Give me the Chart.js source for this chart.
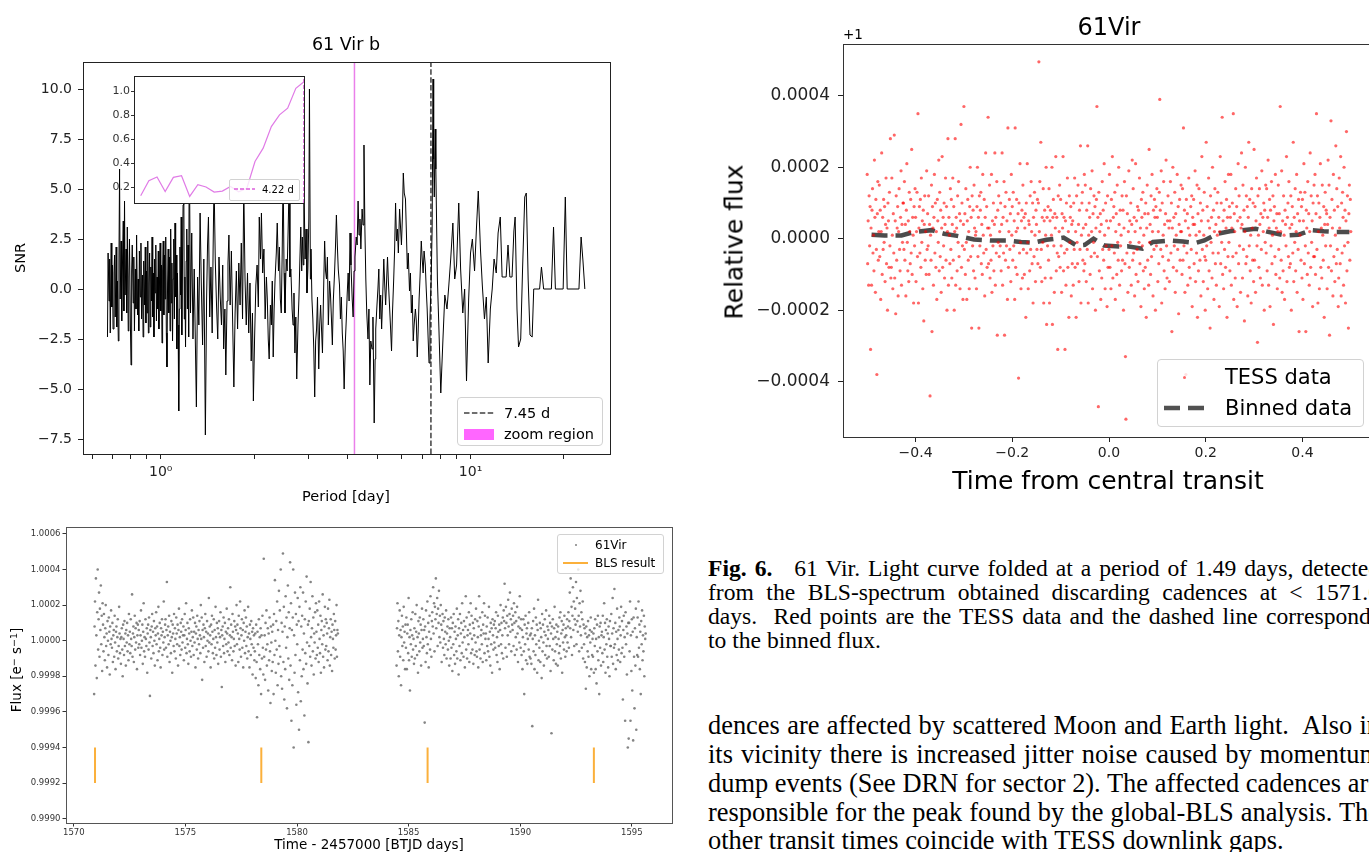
<!DOCTYPE html>
<html>
<head>
<meta charset="utf-8">
<script src="https://cdn.jsdelivr.net/npm/chart.js@4.4.0/dist/chart.umd.min.js"></script>
<style>
  html, body { margin: 0; padding: 0; background: #fff; }
  body { width: 1369px; height: 852px; overflow: hidden; position: relative; font-family: "DejaVu Sans", sans-serif; color: #000; }
  canvas { position: absolute; }
  .t { position: absolute; white-space: nowrap; line-height: 1; transform: translate(-50%, -50%); }
  .rot { transform: translate(-50%, -50%) rotate(-90deg); }
  .t sup { font-size: 70%; vertical-align: 0.45em; line-height: 0; }
  .leg { position: absolute; box-sizing: border-box; border: 1px solid #d2d2d2; border-radius: 4px; background: rgba(255,255,255,0.8); }
  .leg .lt { position: absolute; white-space: nowrap; line-height: 1; transform: translateY(-50%); }
  .leg svg, .leg .patch, .leg .dot { position: absolute; }
  .txt { position: absolute; left: 708px; width: 672px; font-family: "Liberation Serif", "Times New Roman", serif; text-align: justify; text-align-last: justify; color: #000; }
  .cap { font-size: 23.6px; line-height: 26px; height: 26px; }
  .body { font-size: 26.4px; line-height: 29px; height: 29px; }
  .last { text-align-last: left; }
</style>
</head>
<body>

<canvas id="snr" width="620" height="520" style="left:0;top:0;width:620px;height:520px"></canvas>
<canvas id="inset" width="210" height="145" style="left:100px;top:66px;width:210px;height:145px"></canvas>
<canvas id="lc" width="680" height="332" style="left:0;top:520px;width:680px;height:332px"></canvas>
<canvas id="fold" width="700" height="520" style="left:700px;top:0;width:700px;height:520px"></canvas>

<!-- periodogram texts -->
<div class="t" style="left:346px;top:45px;font-size:17.5px">61 Vir b</div>
<div class="t rot" style="left:20px;top:258px;font-size:14.5px">SNR</div>
<div class="t" style="left:346px;top:496px;font-size:14.5px">Period [day]</div>

<div class="leg" style="left:457px;top:397px;width:146px;height:49px">
  <svg style="left:6px;top:10px" width="30" height="10"><line x1="0" y1="5" x2="30" y2="5" stroke="#404040" stroke-width="1.5" stroke-dasharray="5.5 2.4"/></svg>
  <div class="lt" style="left:46px;top:15px;font-size:14.5px">7.45 d</div>
  <div class="patch" style="left:6px;top:31px;width:30px;height:11px;background:#ff66ff"></div>
  <div class="lt" style="left:46px;top:36px;font-size:14.5px">zoom region</div>
</div>

<div class="leg" style="left:229px;top:179px;width:71px;height:22px;border-radius:2px">
  <svg style="left:4px;top:4px" width="21" height="10"><line x1="0" y1="5" x2="21" y2="5" stroke="#dd5fdd" stroke-width="1.5" stroke-dasharray="4 2"/></svg>
  <div class="lt" style="left:32px;top:10px;font-size:10px">4.22 d</div>
</div>

<!-- light curve texts -->
<div class="t rot" style="left:17px;top:670px;font-size:13.5px">Flux [e<sup>−</sup> s<sup>−1</sup>]</div>
<div class="t" style="left:369px;top:845px;font-size:13.5px">Time - 2457000 [BTJD days]</div>

<div class="leg" style="left:557px;top:534px;width:107px;height:40px;border-radius:3px">
  <div class="dot" style="left:17px;top:9px;width:2px;height:2px;border-radius:1px;background:#7f7f7f"></div>
  <div class="lt" style="left:37px;top:10px;font-size:12px">61Vir</div>
  <svg style="left:5px;top:23px" width="25" height="10"><line x1="0" y1="5" x2="25" y2="5" stroke="#fbb03b" stroke-width="2"/></svg>
  <div class="lt" style="left:37px;top:28px;font-size:12px">BLS result</div>
</div>

<!-- folded curve texts -->
<div class="t" style="left:1109px;top:27px;font-size:24px">61Vir</div>
<div class="t" style="left:853px;top:35px;font-size:13.5px">+1</div>
<div class="t rot" style="left:734px;top:242px;font-size:25px">Relative flux</div>
<div class="t" style="left:1108px;top:480px;font-size:25px">Time from central transit</div>

<div class="leg" style="left:1157px;top:359px;width:207px;height:68px">
  <div class="dot" style="left:25px;top:16px;width:3px;height:3px;border-radius:2px;background:rgba(255,0,0,0.6)"></div>
  <div class="lt" style="left:67px;top:17px;font-size:21px">TESS data</div>
  <svg style="left:6px;top:43px" width="42" height="10"><line x1="0" y1="5" x2="42" y2="5" stroke="rgba(50,50,50,0.85)" stroke-width="4.5" stroke-dasharray="16 8"/></svg>
  <div class="lt" style="left:67px;top:48px;font-size:21px">Binned data</div>
</div>

<!-- caption and body text -->
<div class="txt cap" style="top:555px"><b>Fig. 6.</b><span style="display:inline-block;width:14px"></span> 61 Vir. Light curve folded at a period of 1.49 days, detected</div>
<div class="txt cap" style="top:579px">from the BLS-spectrum obtained discarding cadences at &lt; 1571.0</div>
<div class="txt cap" style="top:603px">days.&nbsp; Red points are the TESS data and the dashed line corresponds</div>
<div class="txt cap last" style="top:627px">to the binned flux.</div>

<div class="txt body" style="top:711px">dences are affected by scattered Moon and Earth light.&nbsp; Also in</div>
<div class="txt body" style="top:740px">its vicinity there is increased jitter noise caused by momentum</div>
<div class="txt body" style="top:769px">dump events (See DRN for sector 2). The affected cadences are</div>
<div class="txt body" style="top:798px">responsible for the peak found by the global-BLS analysis. The</div>
<div class="txt body last" style="top:826px">other transit times coincide with TESS downlink gaps.</div>

<script>
// ---------- periodogram: [log10(period / day), SNR] ----------
const periodogram = [
  [-0.172,-2.4],[-0.170,1.8],[-0.167,-0.6],[-0.165,1.5],[-0.163,-2.2],[-0.160,2.3],[-0.158,-0.9],[-0.156,1.2],[-0.154,-2.0],[-0.151,0.8],
  [-0.149,1.7],[-0.147,-1.4],[-0.144,2.1],[-0.142,-1.9],[-0.140,0.4],[-0.137,-2.6],[-0.135,1.3],[-0.133,6.0],[-0.131,-0.5],[-0.128,2.4],
  [-0.126,-1.6],[-0.124,0.9],[-0.121,3.4],[-0.119,-1.1],[-0.117,4.4],[-0.115,-0.3],[-0.112,2.0],[-0.110,-1.2],[-0.108,3.1],[-0.105,-2.1],
  [-0.103,0.6],[-0.101,2.5],[-0.098,-1.8],[-0.096,-3.8],[-0.094,0.9],[-0.092,2.2],[-0.089,-0.7],[-0.087,1.6],[-0.085,-2.1],[-0.082,1.0],
  [-0.080,-1.0],[-0.078,2.7],[-0.075,-1.3],[-0.073,0.5],[-0.071,-2.1],[-0.069,1.9],[-0.066,-0.4],[-0.064,2.3],[-0.062,-1.5],[-0.059,0.7],
  [-0.057,-2.4],[-0.055,1.4],[-0.052,-0.8],[-0.050,2.1],[-0.048,-1.7],
  [-0.046,0.9],[-0.044,-1.2],[-0.042,2.4],[-0.040,-2.2],[-0.038,0.3],[-0.036,1.8],[-0.034,-1.9],[-0.032,1.1],[-0.030,-0.6],[-0.028,2.6],
  [-0.026,-1.4],[-0.024,0.8],[-0.022,-2.4],[-0.020,1.5],[-0.018,-0.2],[-0.016,2.2],[-0.014,-1.6],[-0.012,0.6],[-0.010,-1.0],[-0.008,1.9],
  [-0.006,-2.0],[-0.004,0.4],[-0.002,2.3],[0.000,-1.1],[0.002,1.2],[0.004,-2.7],[0.006,0.9],[0.008,2.4],[0.010,-1.3],[0.012,1.7],
  [0.014,-0.5],[0.016,2.6],[0.018,-2.2],[0.020,-3.9],[0.022,0.3],[0.024,2.0],[0.026,-1.2],[0.028,1.6],[0.030,-2.1],[0.032,3.0],
  [0.034,-0.7],[0.036,1.3],[0.038,-2.6],[0.040,0.5],[0.042,2.5],[0.044,-1.5],[0.046,3.3],[0.048,-0.4],[0.050,1.7],[0.052,-3.0],
  [0.054,0.8],[0.056,-1.8],[0.058,-6.1],[0.060,-1.0],[0.062,2.1],[0.064,-0.3],[0.066,3.6],[0.068,-2.3],[0.070,1.0],[0.072,4.2],
  [0.074,6.6],[0.076,-1.5],[0.078,0.6],[0.080,-2.9],[0.082,1.4],[0.084,3.0],[0.086,-1.0],[0.088,2.2],[0.090,-2.4],
  [0.092,7.5],[0.096,-1.2],[0.100,2.8],[0.104,-2.5],[0.108,1.0],[0.112,-3.0],[0.115,-5.9],[0.119,0.6],[0.123,-1.8],[0.127,3.8],
  [0.131,0.2],[0.135,-2.8],[0.139,1.5],[0.142,-3.5],[0.144,-7.3],[0.148,-0.5],[0.151,2.2],[0.154,3.6],[0.158,-1.4],[0.162,1.1],
  [0.166,-2.2],[0.169,2.0],[0.172,5.5],[0.176,1.4],[0.180,-0.8],[0.184,-2.5],[0.188,1.6],[0.192,-0.4],[0.196,-1.8],[0.200,1.2],
  [0.203,-3.0],[0.207,-1.0],[0.210,-4.3],[0.214,-0.6],[0.217,1.3],[0.220,2.7],[0.224,-0.8],[0.228,1.9],[0.232,-1.6],[0.236,-4.9],
  [0.240,-1.2],[0.244,0.9],[0.248,-2.0],[0.252,1.3],[0.256,-0.8],[0.260,2.3],[0.264,-1.5],[0.268,5.2],[0.272,0.5],[0.276,-1.8],
  [0.280,0.8],[0.284,-2.2],[0.288,0.3],[0.292,-3.6],[0.296,-1.2],[0.299,-5.6],[0.303,-2.4],[0.307,0.2],[0.311,1.2],[0.315,-0.9],
  [0.318,3.6],[0.322,1.5],[0.325,3.8],[0.329,0.8],[0.333,2.0],[0.337,-1.5],[0.341,0.6],[0.344,-0.5],[0.347,-2.5],[0.350,-3.5],
  [0.354,-0.8],[0.357,-1.8],[0.360,0.4],[0.363,-3.4],[0.366,-1.0],[0.369,0.5],[0.373,1.8],[0.376,3.3],[0.380,0.9],[0.383,2.1],
  [0.386,-0.5],[0.389,-1.2],[0.392,1.8],[0.395,6.0],[0.398,0.8],[0.401,-1.2],[0.405,1.5],[0.408,0.9],[0.411,2.8],[0.414,5.0],
  [0.417,0.6],[0.420,1.0],[0.424,-1.0],[0.427,-1.8],[0.430,-0.2],[0.433,-3.2],[0.436,-1.4],[0.439,-4.5],[0.443,-1.8],[0.446,-0.5],
  [0.449,1.4],[0.452,3.1],[0.455,0.9],[0.457,2.6],[0.460,1.2],[0.462,5.5],[0.466,1.5],[0.469,3.0],[0.472,-0.2],[0.475,1.0],
  [0.478,3.5],[0.480,10.0],[0.483,0.5],[0.485,2.0],
  [0.488,-0.5],[0.491,-1.5],[0.494,-3.0],[0.497,-5.4],[0.500,-2.6],[0.503,-2.0],[0.506,-0.4],[0.510,-4.0],[0.513,-1.8],[0.516,-0.8],
  [0.519,-2.0],[0.522,-3.2],[0.525,-0.6],[0.529,2.4],[0.532,0.9],[0.535,0.5],[0.538,1.6],[0.541,-1.8],[0.545,0.4],[0.548,-0.3],
  [0.551,-1.5],[0.554,-2.8],[0.557,-0.6],[0.561,0.8],[0.564,2.1],[0.567,3.7],[0.570,2.2],[0.573,1.0],[0.577,0.2],[0.580,-1.5],
  [0.583,-0.4],[0.586,-2.2],[0.589,-3.1],[0.592,-5.0],[0.596,-2.6],[0.599,-1.5],[0.602,-0.2],[0.605,0.8],[0.608,-0.6],[0.611,2.8],
  [0.614,1.2],[0.618,-0.5],[0.621,-1.4],[0.624,0.9],[0.627,1.6],[0.631,2.6],[0.634,2.2],[0.637,4.4],[0.640,2.7],[0.643,3.5],
  [0.646,2.0],[0.650,4.0],[0.653,3.2],[0.656,7.2],[0.659,3.0],[0.662,0.5],[0.665,-1.2],[0.669,-2.5],[0.672,-1.0],[0.675,-4.8],
  [0.678,-2.6],[0.682,-3.0],[0.685,-1.4],[0.689,-6.7],[0.692,-3.5],[0.694,-2.0],[0.698,-0.8],[0.701,0.0],[0.704,1.0],[0.707,-1.5],
  [0.710,-0.3],[0.713,-2.0],[0.716,-0.6],[0.720,1.5],[0.723,0.2],[0.726,-0.8],[0.729,0.4],[0.732,1.6],[0.735,0.3],[0.739,-1.0],
  [0.742,-2.0],[0.745,-3.1],[0.748,-1.2],[0.752,0.5],[0.755,2.0],[0.758,4.3],[0.761,2.4],[0.764,3.0],[0.767,1.8],[0.771,4.0],
  [0.774,3.1],[0.777,2.2],[0.780,3.6],[0.783,5.8],[0.786,4.8],[0.790,4.5],[0.793,2.8],[0.796,1.0],[0.799,1.8],[0.803,-0.1],
  [0.806,0.8],[0.809,-1.2],[0.812,-0.3],[0.815,-2.6],[0.818,-1.8],[0.822,-1.0],[0.825,-1.6],[0.828,-3.4],[0.831,-2.1],[0.834,-0.5],
  [0.837,0.6],[0.841,2.4],[0.844,1.5],[0.847,0.8],[0.850,1.9],[0.854,1.2],[0.857,0.0],[0.860,-1.0],[0.863,-2.4],[0.866,-3.7],
  [0.869,-1.5],[0.873,0.5],[0.876,3.0],[0.879,10.5],[0.881,6.5],[0.883,4.6],[0.886,8.0],[0.888,6.0],
  [0.893,0.5],[0.898,-2.0],[0.904,-5.2],[0.911,-2.5],[0.917,-0.3],[0.924,-1.0],[0.930,0.2],[0.936,1.5],[0.943,3.3],[0.949,0.5],
  [0.955,1.2],[0.962,4.3],[0.968,1.0],[0.975,-1.2],[0.981,0.0],[0.987,-4.6],[0.994,-0.5],[1.000,1.8],[1.006,2.5],[1.013,0.9],
  [1.019,3.0],[1.025,4.9],[1.032,2.0],[1.038,0.2],[1.045,-1.5],[1.051,-0.4],[1.057,-3.7],[1.064,-1.0],[1.070,0.0],[1.076,1.5],
  [1.083,0.8],[1.089,2.8],[1.096,3.6],[1.102,0.6],[1.115,0.6],[1.121,2.2],[1.127,0.6],[1.134,0.6],[1.140,2.9],[1.144,3.6],
  [1.150,-1.0],[1.155,-2.9],[1.162,-2.5],[1.168,1.0],[1.175,4.6],[1.180,4.8],[1.186,0.5],[1.192,-2.3],[1.199,-2.4],[1.204,0.0],
  [1.223,0.0],[1.229,1.1],[1.236,0.0],[1.261,0.0],[1.268,3.1],[1.274,0.0],[1.299,0.0],[1.306,4.6],[1.312,0.0],[1.350,0.0],
  [1.357,2.6],[1.363,1.4],[1.369,0.0]
];
const zoomPeriod = 4.22;
const bestPeriod = 7.45;
const snrTicksY = [-7.5, -5.0, -2.5, 0.0, 2.5, 5.0, 7.5, 10.0];
const snrTicksX = [0.6, 0.7, 0.8, 0.9, 1, 2, 3, 4, 5, 6, 7, 8, 9, 10, 20];

// ---------- inset (zoom region) ----------
const insetPeriods = [4.010,4.0205,4.031,4.0415,4.052,4.0625,4.073,4.0835,4.094,4.1045,4.115,4.1255,4.136,4.1465,4.157,4.1675,4.178,4.1885,4.199,4.2095,4.220];
const insetValues  = [0.127,0.253,0.284,0.163,0.281,0.295,0.121,0.219,0.200,0.158,0.166,0.205,0.160,0.190,0.414,0.526,0.707,0.805,0.861,1.028,1.084];
const insetTicksY = [0.2, 0.4, 0.6, 0.8, 1.0];

// ---------- light curve: (flux - 1) x 1e5, one value per 0.02 d cadence ----------
const lcCadence = 0.02;
const lcStart1 = 1570.91;
const lcFlux1 = [
  -30,8,22,-14,35,3,-21,16,40,-5,12,27,-9,18,6,31,-2,14,-17,21,
  9,-6,15,2,-11,7,20,-3,4,-15,11,0,-8,13,5,-19,8,-2,17,1,
  -4,10,-12,3,6,-9,14,-1,-16,5,8,-6,2,12,-10,-3,19,4,-7,1,
  -13,2,7,-5,-20,9,1,-8,11,-3,4,-14,6,-1,10,-6,3,-11,15,-2,
  5,-7,12,1,-3,26,-9,4,8,-12,2,14,-5,7,-1,10,-16,3,9,-4,
  6,-2,11,-8,3,17,-4,0,9,-13,5,21,-6,2,-9,12,1,-3,7,-18,
  4,9,-5,13,-1,-31,6,2,-10,8,15,-3,5,-7,11,0,-14,7,3,16,
  -2,8,-11,4,19,-6,1,10,-4,-15,7,3,12,-8,5,-1,22,-5,2,9,
  12,-4,6,33,-9,3,8,-2,14,-12,5,0,-7,11,2,-18,9,4,-3,15,
  -6,7,1,-10,13,4,-2,9,-14,6,18,-3,2,-8,10,5,-5,12,-1,3,
  8,-11,3,15,-4,6,21,-7,1,10,-2,-13,7,4,-6,12,0,-9,5,17,
  -3,2,13,-8,5,-1,10,-15,4,8,-5,14,1,-10,6,-2,11,3,-7,20,
  1,13,-22,6,-4,9,2,-12,7,15,-3,5,-9,11,0,4,-6,24,-1,8,
  3,-15,9,-2,14,5,-7,1,12,-10,6,-4,19,2,-8,10,-1,7,-13,4,
  11,-5,2,16,-9,6,-26,3,8,-3,13,-7,1,10,-12,5,-2,18,4,-6,
  7,-1,12,-8,3,30,-4,9,2,-11,15,5,-6,1,11,-3,8,-14,6,20,
  -2,9,4,-12,14,1,-5,22,7,-9,3,12,-4,6,-15,10,0,17,-7,5,
  13,-3,8,-10,2,19,-6,4,-15,9,1,-8,11,-2,5,-19,7,-4,3,-11,
  -6,4,-21,9,-12,-43,5,-2,-25,12,-8,2,-16,7,-30,3,-10,14,-4,-19,
  46,-9,3,-22,10,-5,17,-14,-2,7,-28,4,-11,13,-6,-35,8,-1,-17,5,
  -12,9,-30,15,-8,34,0,-18,11,-5,22,-25,6,-13,28,-3,17,-9,40,-20,
  10,-27,5,49,-12,19,-33,8,-16,25,-4,13,-38,2,31,-10,16,-22,7,44,
  -14,21,-45,6,-25,13,40,-60,3,-18,27,-8,15,-36,9,-2,24,-29,11,-50,
  19,-11,30,-34,8,-20,14,-5,27,-16,4,-42,12,-7,22,-13,36,-1,-24,9,
  -57,11,-3,18,-9,33,2,-14,7,25,-6,13,-19,4,-1,16,-10,21,5,-8,
  17,-4,9,-12,22,1,-7,14,-18,6,11,-2,26,-9,3,-15,8,19,-5,12,
  -3,10,4,-11,18,-6,7,23,-14,2,12,-8,5,-17,9,1,-4,15,6,-10,
  11,-5,3,20,-9,6,4
];
const lcStart2 = 1584.46;
const lcFlux2 = [
  -14,7,21,-6,11,-20,3,17,-9,6,-25,2,14,-3,8,-11,19,-1,5,-16,
  9,-4,13,-16,4,9,-7,24,-11,2,-28,6,-2,12,-9,3,16,-5,1,-13,
  7,-10,15,-3,5,20,-8,2,-18,11,4,-6,13,-1,9,-14,6,18,-4,1,
  12,-3,6,-46,8,-12,17,2,-7,22,-2,10,-15,5,14,-5,25,1,-9,11,
  16,8,30,4,21,-6,19,12,35,7,15,24,-3,18,10,28,2,14,-1,20,
  9,-12,6,15,-4,11,1,-8,13,5,-2,17,-10,4,8,-5,12,0,-14,7,
  2,-10,13,-4,7,-17,10,-2,15,-8,5,-13,8,1,-6,18,-10,3,12,-19,
  7,-3,15,-11,4,10,-7,21,-1,6,-9,11,2,-15,8,25,-5,13,-10,3,
  6,-2,16,-12,9,4,21,-7,14,1,-5,10,-13,7,3,-8,12,-1,18,-6,
  -9,11,2,-15,8,25,-5,13,-10,3,6,-2,16,-12,9,4,21,-7,14,1,
  4,-11,8,-3,13,-6,1,19,-9,5,-14,10,-2,7,-18,12,3,-5,9,-1,
  11,-4,7,16,-8,2,-12,14,5,-3,9,-16,6,20,-2,10,-7,3,13,-10,
  17,11,32,7,-4,19,10,-9,14,3,23,8,-2,15,27,5,12,-6,18,9,
  6,14,-3,21,10,-8,16,2,11,-5,19,4,-12,8,13,-1,25,7,-4,12,
  -8,6,-16,2,12,-6,-30,9,-2,14,-11,4,7,-13,1,10,-5,16,-9,3,
  -10,4,-13,7,-48,1,11,-6,18,-16,3,-8,13,-2,9,-18,6,23,-11,0,
  -4,10,-12,7,2,-21,15,-6,9,-1,-14,5,12,-8,3,17,-3,-10,8,1,
  6,-9,14,-3,10,-17,4,-52,8,-5,12,1,-11,7,19,-6,2,-13,9,-2,
  5,-14,8,1,-7,13,-3,16,-10,4,11,-18,6,-1,9,-5,14,2,-9,7,
  3,-6,12,-1,8,16,-4,11,27,7,35,2,19,-8,14,30,6,22,-3,12,
  18,9,33,-2,24,11,5,40,14,-6,21,8,28,3,16,-4,12,22,-10,9,
  -2,7,-12,4,-27,8,-15,2,-6,11,-9,3,-20,6,-1,13,-16,5,-8,1,
  -9,4,-18,7,-3,12,-16,1,-24,9,-6,14,-11,2,-30,8,-4,10,-14,3,
  5,-7,14,-12,2,21,-5,10,-18,6,-2,12,-9,4,-15,8,1,-20,11,-3,
  -3,15,-9,4,24,-13,7,-4,29,-2,10,-16,5,-8,18,1,-11,6,-5,13,
  8,-12,3,19,-7,11,-4,-33,6,14,-9,2,-45,16,-2,8,-19,4,-60,10,
  -55,10,-6,22,-45,3,-17,12,-28,5,-56,13,-9,-38,7,-14,18,-50,2,-8,
  13,-9,22,-4,9,-16,5,-30,11,-2,17,-11,3,-6,14,-20,8,1,4
];
const blsTransitTimes = [1570.95, 1578.40, 1585.85, 1593.30];
const blsMarkLow = 0.9992, blsMarkHigh = 0.9994;
const lcTicksX = [1570, 1575, 1580, 1585, 1590, 1595];
const lcTicksY = [0.9990, 0.9992, 0.9994, 0.9996, 0.9998, 1.0000, 1.0002, 1.0004, 1.0006];

// ---------- folded curve: relative flux x 1e5, phase bins of 0.001 from -0.5 ----------
const foldStart = -0.5;
const foldStep = 0.001;
const foldFlux = [
  18,-7,5,-13,12,-2,9,-31,3,-13,8,14,-4,1,-9,22,6,-15,11,-3,-38,7,16,-6,2,
  15,-5,8,-17,2,24,-10,6,-3,11,-1,9,-12,4,17,-7,3,-20,10,5,-8,13,-2,28,-11,
  -8,17,1,-14,7,-4,29,-11,5,-21,12,-6,3,9,-16,2,14,-3,-9,6,19,-13,4,-1,10,
  10,-3,16,-6,4,-16,8,21,-1,-9,5,-12,13,2,-7,11,-4,25,-10,6,1,-18,9,-2,14,
  6,-12,2,13,-5,35,-18,3,9,-4,11,-8,17,-1,5,-14,8,-23,4,12,-6,2,-10,19,-3,
  7,-2,12,-10,4,-44,1,-6,15,-26,9,3,-13,6,18,-4,10,-8,2,-17,11,5,-1,22,-9,
  13,-5,8,-15,3,23,-8,6,-2,10,-11,4,17,-6,9,-20,2,28,-13,6,1,-7,14,-3,11,
  -11,4,17,-6,9,-20,2,28,-13,6,3,-9,12,-1,16,-5,7,-14,5,32,-8,10,-2,-17,4,
  37,-3,7,-10,14,-1,-17,5,11,-6,2,-14,9,20,-5,6,-25,12,-2,8,-9,15,3,-11,1,
  2,-14,9,20,-5,6,-25,12,-2,8,13,-7,4,-10,18,1,-4,11,-16,6,24,-3,9,-8,3,
  34,-7,3,15,-11,1,-6,18,-15,5,-2,10,-9,4,24,-13,6,-4,16,-27,8,-1,12,-5,2,
  -2,10,-9,4,24,-13,6,-4,16,-27,9,-6,13,-2,5,-17,31,-8,2,11,-3,7,-12,18,1,
  9,-6,13,-2,5,-17,31,-8,2,11,-10,3,7,-39,10,-4,21,-1,-14,5,8,-11,15,-3,6,
  -10,3,7,-22,10,-4,21,-1,-14,5,4,-9,12,-3,16,2,-7,10,-18,6,-5,13,1,-12,8,
  4,-3,11,-7,10,49.5,2,16,-8,27,-3,-12,6,-1,14,-18,5,8,-11,1,20,-24,6,-2,9,
  -6,14,-18,5,8,-11,1,20,-24,6,11,-2,-15,7,3,23,-9,6,-4,-31,12,-5,2,15,-8,
  11,-2,-15,7,3,23,-9,6,-4,-31,5,-13,10,-3,17,-8,2,-22,12,-1,6,9,-16,4,-7,
  5,-13,10,-3,17,-8,2,-22,12,-1,-7,15,4,-12,8,-3,26,-18,1,10,13,-6,3,-9,18,
  -7,15,4,-12,8,-3,26,-18,1,10,6,-10,14,-5,2,19,-14,7,-1,12,-4,9,-20,3,11,
  37,-5,6,-47,13,-9,2,7,-17,4,-11,16,-3,8,-6,21,1,-14,10,-2,5,-19,12,-8,3,
  -3,18,-8,5,-14,11,-2,23,-11,6,9,-4,13,-17,2,7,-10,15,-1,-6,20,4,-13,8,-2,
  1,-9,12,-6,8,-20,3,16,-7,-33,-50.5,12,-4,7,-15,2,19,-8,5,-1,10,-13,4,22,-6,
  14,-4,6,-16,2,21,-10,5,-3,9,-12,8,-1,17,-7,3,-19,11,6,-2,13,-9,1,-14,7,
  -8,10,-22,3,15,-6,7,-13,25,-1,4,-10,12,-5,18,2,-16,8,-3,11,6,-20,9,-2,14,
  6,-12,2,-7,13,39,8,-3,19,-18,10,-5,1,16,-9,4,-14,7,22,-2,-11,5,12,-6,3,
  -12,5,16,-4,10,-26,3,20,-8,6,-2,13,-15,7,1,-9,18,-3,9,-21,4,11,-6,2,15,
  2,-10,14,-6,31,-2,8,-15,5,-38,11,-4,7,-13,3,17,-8,1,-11,9,-3,12,-19,6,4,
  11,-7,4,19,-12,1,-4,15,-22,7,-9,14,2,-6,10,-16,5,23,-3,8,-12,1,13,-5,-20,
  -6,27,-2,9,-14,5,17,-9,3,-25,12,-1,6,-11,20,-4,8,-17,2,14,-7,4,-13,10,1,
  13,-4,6,-19,2,23,-7,10,-1,34,-10,5,-14,8,-3,16,-8,3,11,-22,6,-5,18,-1,9,
  -9,6,18,-13,3,10,-5,35,-17,7,2,-11,14,-4,9,-19,5,21,-7,12,-2,6,-15,3,24,
  4,-11,15,-3,8,-23,2,20,-7,12,-5,9,-16,6,27,-2,11,-9,1,-18,14,3,-6,10,-12,
  25,-6,9,-15,5,17,-2,-29,12,1,-8,14,4,-11,7,-3,19,-13,6,2,10,-20,8,-1,15,
  -4,14,-9,6,22,-13,3,11,-19,8,-2,16,-7,1,12,-24,5,9,-5,18,-10,3,7,-14,2,
  15,-3,7,-11,37,2,-6,19,-15,5,-9,12,1,-17,8,4,-2,23,-12,6,10,-5,16,-8,3,
  -7,12,-20,4,9,-4,27,-12,6,-1,14,-9,2,18,-15,7,-3,11,-26,5,1,13,-6,9,-11,
  11,-17,5,21,-7,13,-2,-26,8,3,-10,16,-4,7,-13,2,24,-8,12,-1,5,-19,10,-5,15,
  -5,18,-10,7,35,-3,12,-18,2,10,-14,6,21,-8,3,-11,15,1,-6,9,-22,4,13,-2,8,
  7,-14,4,22,-8,15,-27,6,-2,33,-9,11,3,-16,18,-5,8,-12,1,26,-7,14,-3,9,-19,
  -11,17,3,-7,23,-16,10,-4,13,6,-13,20,-2,8,-18,5,30,-9,12,-1,-25,7,15,-6,11,
  2
];
const binnedFlux = [
  [-0.491,1.1],[-0.464,0.9],[-0.429,0.9],[-0.403,1.9],[-0.367,2.4],[-0.341,1.4],[-0.314,0.8],[-0.279,-0.2],[-0.244,-0.5],[-0.209,-0.5],
  [-0.182,-0.9],[-0.156,-1.1],[-0.129,-0.3],[-0.094,0.3],[-0.067,-1.9],[-0.050,-1.7],[-0.032,0.0],[-0.010,-1.9],[0.021,-2.2],[0.038,-2.1],
  [0.069,-2.8],[0.091,-0.9],[0.127,-0.5],[0.153,-0.8],[0.179,-1.2],[0.197,-0.5],[0.224,1.4],[0.250,2.1],[0.276,2.4],[0.303,2.8],
  [0.329,1.9],[0.365,0.9],[0.391,1.1],[0.418,2.4],[0.444,2.1],[0.470,1.9],[0.497,1.9]
];
const foldTicksX = [-0.4, -0.2, 0.0, 0.2, 0.4];
const foldTicksY = [-0.0004, -0.0002, 0.0, 0.0002, 0.0004];

// ---------- helpers ----------
Chart.defaults.font.family = "'DejaVu Sans', sans-serif";
const minus = s => s.replace('-', '\u2212');

// box around the axes, optional white fill (inset)
const frame = {
  id: 'frame',
  beforeDatasetsDraw(chart, args, opts) {
    if (!opts.fill) return;
    const a = chart.chartArea, ctx = chart.ctx;
    ctx.save();
    ctx.fillStyle = opts.fill;
    ctx.fillRect(a.left, a.top, a.right - a.left, a.bottom - a.top);
    ctx.restore();
  },
  afterDatasetsDraw(chart, args, opts) {
    const a = chart.chartArea, ctx = chart.ctx;
    ctx.save();
    ctx.strokeStyle = opts.color || '#000';
    ctx.lineWidth = 1;
    ctx.strokeRect(Math.round(a.left) + 0.5, Math.round(a.top) + 0.5, Math.round(a.right - a.left), Math.round(a.bottom - a.top));
    ctx.restore();
  }
};

function axis(o) {
  return {
    type: o.type || 'linear',
    min: o.min, max: o.max,
    display: o.display !== false,
    border: { display: false },
    grid: { drawOnChartArea: false, drawTicks: true, tickLength: o.tickLen, color: o.color, tickColor: o.color },
    ticks: { font: { size: o.size }, color: o.color, padding: o.pad, autoSkip: false, maxRotation: 0, minRotation: 0, callback: o.label },
    afterBuildTicks: ax => { ax.ticks = o.ticks.map(v => ({ value: v })); },
    afterFit: ax => { if (o.w !== undefined) ax.width = o.w; if (o.h !== undefined) ax.height = o.h; }
  };
}

function baseOptions(padding, scales, frameOpts) {
  return {
    responsive: false, animation: false, devicePixelRatio: 1, events: [],
    layout: { padding },
    plugins: { legend: { display: false }, tooltip: { enabled: false }, frame: frameOpts || {} },
    scales
  };
}

// ---------- periodogram ----------
const snrLine = periodogram.map(p => ({ x: Math.pow(10, p[0]), y: p[1] }));
const snrMin = -8.25, snrMax = 11.35;
new Chart(document.getElementById('snr'), {
  type: 'line',
  data: { datasets: [
    { data: snrLine, borderColor: '#000', borderWidth: 1, pointRadius: 0, tension: 0 },
    { data: [{ x: zoomPeriod, y: snrMin }, { x: zoomPeriod, y: snrMax }], borderColor: '#ea80ea', borderWidth: 1.5, pointRadius: 0 },
    { data: [{ x: bestPeriod, y: snrMin }, { x: bestPeriod, y: snrMax }], borderColor: '#404040', borderWidth: 1.5, borderDash: [5.5, 2.4], pointRadius: 0 }
  ] },
  options: baseOptions({ left: 0, top: 62, right: 10, bottom: 36 }, {
    x: axis({ type: 'logarithmic', min: 0.561, max: 28.2, ticks: snrTicksX, size: 14, color: '#222', tickLen: 5, pad: 5, h: 30,
              label: v => v === 1 ? '10\u2070' : (v === 10 ? '10\u00B9' : '') }),
    y: axis({ min: snrMin, max: snrMax, ticks: snrTicksY, size: 14, color: '#222', tickLen: 5, pad: 6, w: 83,
              label: v => minus(v.toFixed(1)) })
  }, { color: '#222' }),
  plugins: [frame]
});

// ---------- inset ----------
const insetMin = 0.066, insetMax = 1.131;
new Chart(document.getElementById('inset'), {
  type: 'line',
  data: { datasets: [
    { data: insetPeriods.map((p, i) => ({ x: p, y: insetValues[i] })), borderColor: '#e07be6', borderWidth: 1.2, pointRadius: 0, tension: 0 },
    { data: [{ x: zoomPeriod, y: insetMin }, { x: zoomPeriod, y: insetMax }], borderColor: '#d250d2', borderWidth: 1.5, borderDash: [4, 2], pointRadius: 0 }
  ] },
  options: baseOptions({ left: 0, top: 10, right: 6, bottom: 8 }, {
    x: axis({ min: 4.0014, max: 4.22, ticks: [], size: 10, color: '#333', tickLen: 0, pad: 0, display: false }),
    y: axis({ min: insetMin, max: insetMax, ticks: insetTicksY, size: 11, color: '#333', tickLen: 3, pad: 1, w: 34,
              label: v => v.toFixed(1) })
  }, { color: '#222', fill: '#fff' }),
  plugins: [frame]
});

// ---------- light curve ----------
const lcData = lcFlux1.map((v, i) => ({ x: lcStart1 + i * lcCadence, y: 1 + v * 1e-5 }))
  .concat(lcFlux2.map((v, i) => ({ x: lcStart2 + i * lcCadence, y: 1 + v * 1e-5 })));
const blsData = [];
blsTransitTimes.forEach(t => { blsData.push({ x: t, y: blsMarkLow }, { x: t, y: blsMarkHigh }, { x: t, y: null }); });
new Chart(document.getElementById('lc'), {
  type: 'line',
  data: { datasets: [
    { data: lcData, showLine: false, pointRadius: 1.3, pointBorderWidth: 0, pointBackgroundColor: 'rgba(110,110,110,0.85)' },
    { data: blsData, borderColor: '#fbb03b', borderWidth: 2, pointRadius: 0, spanGaps: false }
  ] },
  options: baseOptions({ left: 0, top: 7, right: 8, bottom: 9 }, {
    x: axis({ min: 1569.65, max: 1596.8, ticks: lcTicksX, size: 8.5, color: '#333', tickLen: 3.5, pad: 1, h: 20,
              label: v => String(v) }),
    y: axis({ min: 0.998976, max: 1.000638, ticks: lcTicksY, size: 8.5, color: '#333', tickLen: 3.5, pad: 2, w: 66,
              label: v => v.toFixed(4) })
  }, { color: '#555' }),
  plugins: [frame]
});

// ---------- folded light curve ----------
new Chart(document.getElementById('fold'), {
  type: 'line',
  data: { datasets: [
    { data: foldFlux.map((v, i) => ({ x: foldStart + i * foldStep, y: v * 1e-5 })), showLine: false, pointRadius: 1.6, pointBorderWidth: 0, pointBackgroundColor: 'rgba(255,0,0,0.6)' },
    { data: binnedFlux.map(p => ({ x: p[0], y: p[1] * 1e-5 })), borderColor: 'rgba(45,45,45,0.85)', borderWidth: 4.5, borderDash: [16, 8], pointRadius: 0, tension: 0 }
  ] },
  options: baseOptions({ left: 0, top: 44, right: 25, bottom: 53 }, {
    x: axis({ min: -0.55, max: 0.55, ticks: foldTicksX, size: 14, color: '#222', tickLen: 5, pad: 3, h: 30,
              label: v => minus(v.toFixed(1)) }),
    y: axis({ min: -0.000555, max: 0.000545, ticks: foldTicksY, size: 17, color: '#222', tickLen: 5, pad: 8, w: 143,
              label: v => minus(v.toFixed(4)) })
  }, { color: '#333' }),
  plugins: [frame]
});
</script>
</body>
</html>
